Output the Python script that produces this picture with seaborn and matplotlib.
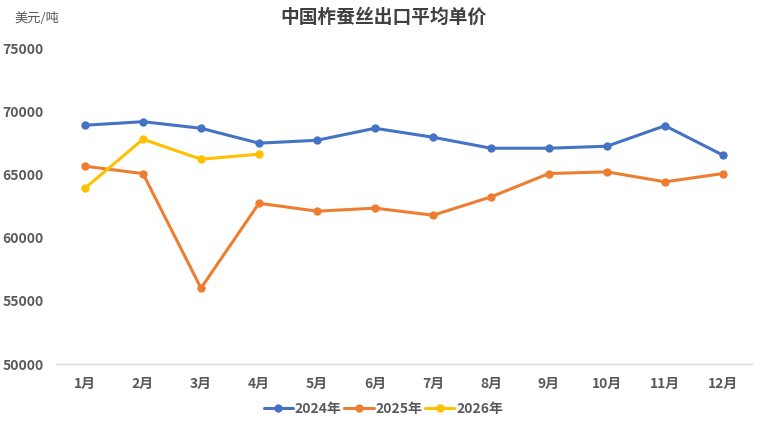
import matplotlib.pyplot as plt
import seaborn as sns
import pandas as pd

# data
months = ['1月', '2月', '3月', '4月', '5月', '6月', '7月', '8月', '9月', '10月', '11月', '12月']
price_2024 = [68890, 69170, 68650, 67470, 67700, 68650, 67940, 67070, 67070, 67230, 68850, 66520]
price_2025 = [65650, 65060, 56000, 62720, 62090, 62330, 61770, 63220, 65070, 65200, 64410, 65070]
price_2026 = [63910, 67780, 66200, 66600]

rows = []
for year, vals in [('2024年', price_2024), ('2025年', price_2025), ('2026年', price_2026)]:
    for m, v in zip(months, vals):
        rows.append({'month': m, 'price': v, 'year': year})
df = pd.DataFrame(rows)

sns.set_theme(style='white')
plt.rcParams['font.family'] = ['Noto Sans CJK SC', 'DejaVu Sans']

fig = plt.figure(figsize=(7.67, 4.32), dpi=100)
ax = fig.add_axes([56 / 767, 1 - 364 / 432, (752 - 56) / 767, (364 - 48) / 432])

palette = {'2024年': '#4472C4', '2025年': '#ED7D31', '2026年': '#FFC000'}
sns.lineplot(data=df, x='month', y='price', hue='year', palette=palette,
             marker='o', markersize=6, markeredgewidth=0, linewidth=2.2,
             sort=False, ax=ax)

ax.set_xlim(-0.5, 11.5)
ax.set_ylim(50000, 75000)
ax.set_yticks(range(50000, 75001, 5000))
ax.set_xlabel('')
ax.set_ylabel('')
for s in ['top', 'right', 'left']:
    ax.spines[s].set_visible(False)
ax.spines['bottom'].set_color('#d9d9d9')
ax.spines['bottom'].set_linewidth(1)
ax.tick_params(axis='both', length=0, labelsize=10, labelcolor='#595959')
ax.tick_params(axis='x', pad=9)
ax.tick_params(axis='y', pad=9)
for lab in ax.get_xticklabels() + ax.get_yticklabels():
    lab.set_fontweight('bold')

fig.text(0.5, 1 - 17 / 432, '中国柞蚕丝出口平均单价', ha='center', va='center',
         fontsize=13.5, fontweight='bold', color='#404040')
fig.text(14 / 767, 1 - 18 / 432, '美元/吨', ha='left', va='center',
         fontsize=9.5, color='#595959')

# legend centred on the figure, below the axis
handles, labels = ax.get_legend_handles_labels()
ax.get_legend().remove()
leg = fig.legend(handles, labels, loc='center', bbox_to_anchor=(0.5, 1 - 409 / 432),
                 ncol=3, frameon=False, handlelength=2.1, handletextpad=0.15,
                 columnspacing=0.2, prop={'weight': 'bold', 'size': 10})
for t in leg.get_texts():
    t.set_color('#595959')

fig.savefig('out.png', dpi=100)
